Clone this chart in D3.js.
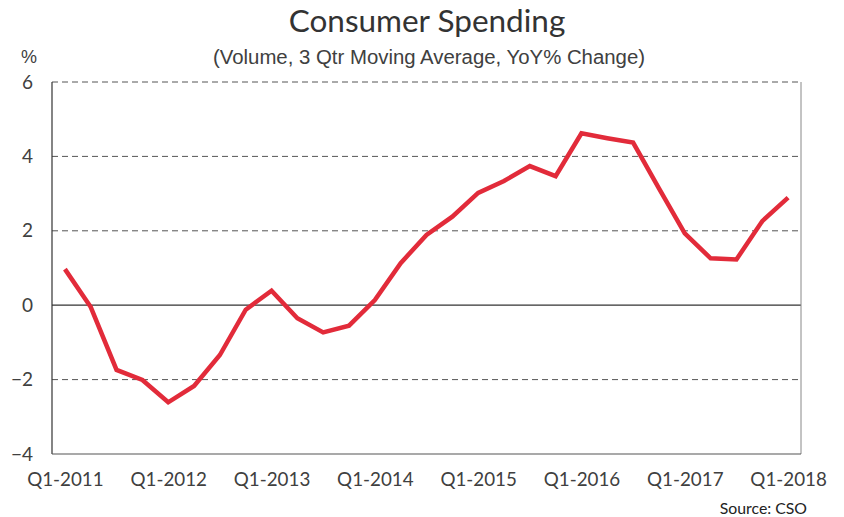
<!DOCTYPE html>
<html><head><meta charset="utf-8">
<script src="https://cdn.jsdelivr.net/npm/d3@7"></script>
<style>body{margin:0;background:#fff}</style>
</head><body>
<svg id="c" width="844" height="517"></svg>
<script>
const quarters = [];
for (let y = 2011; y <= 2018; y++) for (let q = 1; q <= 4; q++) if (!(y === 2018 && q > 1)) quarters.push(`Q${q}-${y}`);
const values = [0.97, -0.05, -1.74, -2.01, -2.61, -2.17, -1.34, -0.12, 0.39, -0.35, -0.73, -0.55, 0.14, 1.13, 1.89, 2.38, 3.02, 3.34, 3.74, 3.47, 4.62, 4.49, 4.37, 3.14, 1.93, 1.26, 1.23, 2.26, 2.89];
const yTicks = [-4, -2, 0, 2, 4, 6];
const xTickLabels = ["Q1-2011","Q1-2012","Q1-2013","Q1-2014","Q1-2015","Q1-2016","Q1-2017","Q1-2018"];

const svg = d3.select("#c");
const L = 52, R = 801, T = 82, B = 454;
const x = d3.scalePoint().domain(quarters).range([L, R]).padding(0.5);
const y = d3.scaleLinear().domain([-4, 6]).range([B, T]);
const txt = "#404040";

// grid
svg.append("g").selectAll("line").data(yTicks.filter(d => d !== -4)).join("line")
  .attr("x1", L).attr("x2", R).attr("y1", d => y(d)).attr("y2", d => y(d))
  .attr("stroke", d => d === 0 ? "#333" : "#555")
  .attr("stroke-width", d => d === 0 ? 1.2 : 1)
  .attr("stroke-dasharray", d => d === 0 ? null : "6,4");
// right border
svg.append("line").attr("x1", R).attr("x2", R).attr("y1", T).attr("y2", B).attr("stroke", "#888").attr("stroke-width", 1);
// left & bottom axis lines
svg.append("line").attr("x1", L).attr("x2", L).attr("y1", T).attr("y2", B).attr("stroke", "#333").attr("stroke-width", 1.2);
svg.append("line").attr("x1", L).attr("x2", R).attr("y1", B).attr("y2", B).attr("stroke", "#555").attr("stroke-width", 1.2);

// y tick labels
const yAxis = d3.axisLeft(y).tickValues(yTicks).tickSize(0).tickPadding(19).tickFormat(d3.format("d"));
const ga = svg.append("g").attr("transform", `translate(${L},0)`).call(yAxis);
ga.select(".domain").remove();
ga.selectAll("text").attr("font-family", "Lato, sans-serif").attr("font-size", 19).attr("fill", txt);

// x tick labels
const xAxis = d3.axisBottom(x).tickValues(xTickLabels).tickSize(0).tickPadding(19);
const gx = svg.append("g").attr("transform", `translate(0,${B})`).call(xAxis);
gx.select(".domain").remove();
gx.selectAll("text").attr("font-family", "Lato, sans-serif").attr("font-size", 18.8).attr("fill", txt);

// line
const line = d3.line().x((d, i) => x(quarters[i])).y(d => y(d));
svg.append("path").datum(values).attr("d", line).attr("fill", "none")
  .attr("stroke", "#e22b3a").attr("stroke-width", 4.5).attr("stroke-linejoin", "miter").attr("stroke-linecap", "butt");

// titles
svg.append("text").attr("x", 427).attr("y", 32).attr("text-anchor", "middle")
  .attr("font-family", "Lato, sans-serif").attr("font-size", 31.5).attr("fill", "#333").text("Consumer Spending");
svg.append("text").attr("x", 429).attr("y", 64).attr("text-anchor", "middle")
  .attr("font-family", "'Liberation Sans', sans-serif").attr("font-size", 20).attr("fill", txt)
  .attr("textLength", 432).attr("lengthAdjust", "spacingAndGlyphs")
  .text("(Volume, 3 Qtr Moving Average,  YoY% Change)");
svg.append("text").attr("x", 29).attr("y", 63).attr("text-anchor", "middle")
  .attr("font-family", "'Liberation Sans', sans-serif").attr("font-size", 18).attr("fill", txt).text("%");
svg.append("text").attr("x", 807).attr("y", 514).attr("text-anchor", "end")
  .attr("font-family", "Lato, sans-serif").attr("font-size", 15.8).attr("fill", "#222").text("Source: CSO");
</script>
</body></html>
